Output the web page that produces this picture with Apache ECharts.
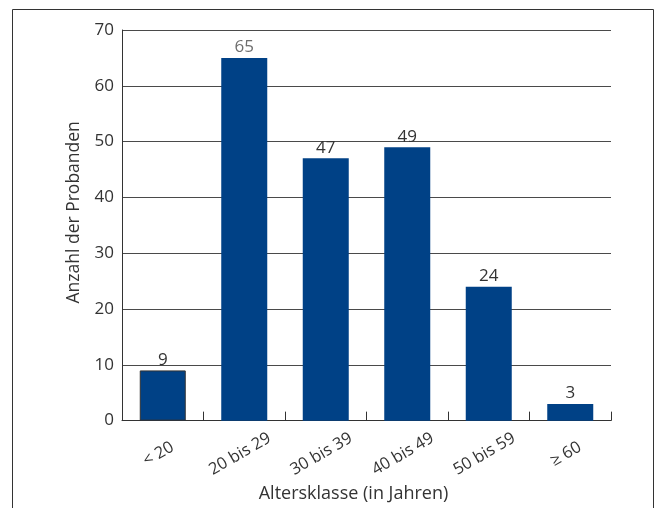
<!DOCTYPE html>
<html>
<head>
<meta charset="utf-8">
<script src="https://cdn.jsdelivr.net/npm/echarts@6/dist/echarts.min.js"></script>
<style>
  html, body { margin: 0; padding: 0; background: #fff; }
  #chart { width: 659px; height: 508px; }
</style>
</head>
<body>
<div id="chart"></div>
<script>
// Altersverteilung der Probanden
const categories = ['< 20', '20 bis 29', '30 bis 39', '40 bis 49', '50 bis 59', '≥ 60'];
const counts = [9, 65, 47, 49, 24, 3];
const yTicks = [0, 10, 20, 30, 40, 50, 60, 70];

const FONT = '"Open Sans", "Noto Sans", sans-serif';
const BAR = '#004186';

const chart = echarts.init(document.getElementById('chart'), null, { renderer: 'canvas' });

const barData = counts.map((v, i) => {
  const item = { value: v };
  if (i === 0) item.itemStyle = { borderColor: '#333', borderWidth: 1 };
  if (i === 1) item.label = { color: '#6e6e6e' };
  return item;
});

chart.setOption({
  animation: false,
  backgroundColor: '#fff',
  textStyle: { fontFamily: FONT },
  graphic: [{
    type: 'rect',
    shape: { x: 12.5, y: 9.5, width: 641, height: 520 },
    style: { fill: null, stroke: '#333', lineWidth: 1 },
    silent: true
  }],
  grid: { left: 122, top: 30, right: 48, bottom: 87 },
  xAxis: {
    type: 'category',
    data: categories,
    name: 'Altersklasse (in Jahren)',
    nameLocation: 'middle',
    nameGap: 64,
    nameTextStyle: { fontSize: 18, color: '#333', fontFamily: FONT, padding: [0, 26, 0, 0] },
    axisLine: { show: true, lineStyle: { color: '#333', width: 1 } },
    axisTick: { show: true, inside: true, length: 9, alignWithLabel: false, lineStyle: { color: '#333' } },
    axisLabel: {
      rotate: 30,
      align: 'center',
      verticalAlign: 'middle',
      margin: 31,
      fontSize: 16.5,
      color: '#333',
      fontFamily: FONT,
      padding: [0, 10, 0, 0]
    },
    splitLine: { show: false }
  },
  yAxis: {
    type: 'value',
    min: yTicks[0],
    max: yTicks[yTicks.length - 1],
    interval: 10,
    name: 'Anzahl der Probanden',
    nameLocation: 'middle',
    nameGap: 39,
    nameRotate: 90,
    nameTextStyle: { fontSize: 17.5, color: '#333', fontFamily: FONT, padding: [0, 0, 0, 26] },
    axisLine: { show: true, lineStyle: { color: '#333', width: 1 } },
    axisTick: { show: false },
    axisLabel: { fontSize: 17, color: '#333', margin: 8, fontFamily: FONT },
    splitLine: { show: true, lineStyle: { color: '#4a4a4a', width: 1 } }
  },
  series: [{
    type: 'bar',
    data: barData,
    barWidth: 46,
    itemStyle: { color: BAR },
    label: {
      show: true,
      position: 'top',
      distance: 2,
      fontSize: 17,
      color: '#333',
      fontFamily: FONT
    }
  }]
});
</script>
</body>
</html>
